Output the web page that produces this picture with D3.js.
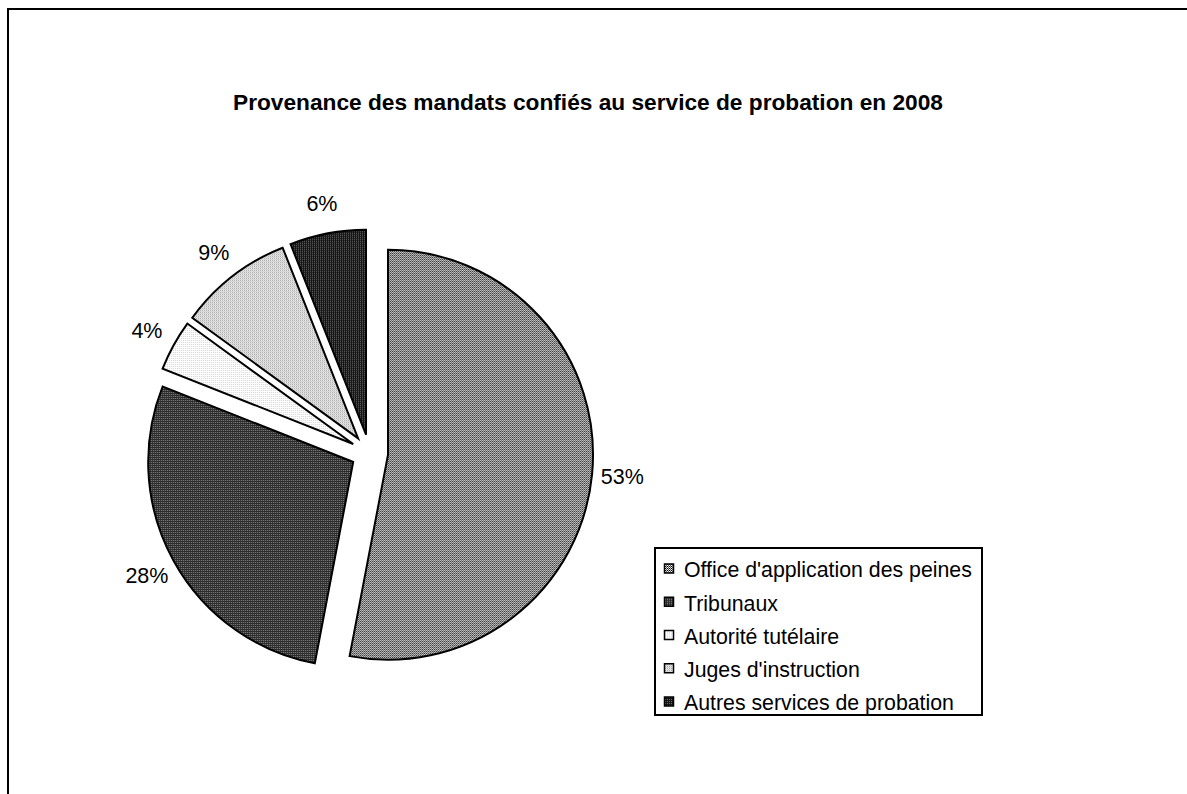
<!DOCTYPE html>
<html>
<head>
<meta charset="utf-8">
<script src="https://cdn.jsdelivr.net/npm/d3@7"></script>
<style>
  html, body { margin: 0; padding: 0; background: #fff; }
  svg { display: block; }
  text { font-family: "Liberation Sans", Arial, sans-serif; fill: #000; }
</style>
</head>
<body>
<svg id="chart" width="1187" height="794"></svg>
<script>
// Sources of probation mandates, 2008 (share of total, %)
const categories = [
  "Office d'application des peines",
  "Tribunaux",
  "Autorité tutélaire",
  "Juges d'instruction",
  "Autres services de probation"
];
const values = [53, 28, 4, 9, 6];
const labels = ["53%", "28%", "4%", "9%", "6%"];
const title = "Provenance des mandats confiés au service de probation en 2008";

const svg = d3.select("#chart");
const W = 1187, H = 794;

// Dithered fills, one per category
const patternDefs = [
  { id: "p0", bg: "#ffffff", dots: [[0, 0, "#000"], [1, 1, "#555"], [1, 0, "#ccc"]] },
  { id: "p1", bg: "#2a2a2a", dots: [[0, 0, "#8a8a8a"]] },
  { id: "p2", bg: "#ffffff", dots: [[0, 0, "#d0d0d0"]] },
  { id: "p3", bg: "#ffffff", dots: [[0, 0, "#888"], [1, 1, "#c0c0c0"]] },
  { id: "p4", bg: "#151515", dots: [[0, 0, "#6a6a6a"]] }
];
const defs = svg.append("defs");
patternDefs.forEach(p => {
  const pat = defs.append("pattern")
    .attr("id", p.id)
    .attr("patternUnits", "userSpaceOnUse")
    .attr("width", 2).attr("height", 2);
  pat.append("rect").attr("width", 2).attr("height", 2).attr("fill", p.bg);
  p.dots.forEach(d => pat.append("rect")
    .attr("x", d[0]).attr("y", d[1]).attr("width", 1).attr("height", 1)
    .attr("fill", d[2]).attr("shape-rendering", "crispEdges"));
});
const fill = d3.scaleOrdinal().domain(categories).range(patternDefs.map(p => `url(#${p.id})`));

// Chart frame (runs off the right and bottom of the page)
svg.append("rect")
  .attr("x", 8).attr("y", 9).attr("width", W + 20).attr("height", H + 20)
  .attr("fill", "none").attr("stroke", "#000").attr("stroke-width", 2);

// Title
svg.append("text")
  .attr("x", 588).attr("y", 110)
  .attr("text-anchor", "middle")
  .style("font-size", "22.7px").style("font-weight", "bold")
  .text(title);

// Exploded pie
const cx = 369.5, cy = 453, R = 205, explode = 18.6, labelR = 254;
const data = categories.map((c, i) => ({ name: c, value: values[i], label: labels[i] }));
const pie = d3.pie().sort(null).value(d => d.value).startAngle(0).endAngle(2 * Math.PI);
const arcs = pie(data);
const arc = d3.arc().innerRadius(0).outerRadius(R);

const g = svg.append("g").attr("transform", `translate(${cx},${cy})`);
const mid = d => (d.startAngle + d.endAngle) / 2;

g.selectAll("path.slice")
  .data(arcs)
  .join("path")
  .attr("class", "slice")
  .attr("transform", d => `translate(${explode * Math.sin(mid(d))},${-explode * Math.cos(mid(d))})`)
  .attr("d", arc)
  .attr("fill", d => fill(d.data.name))
  .attr("stroke", "#000")
  .attr("stroke-width", 2)
  .attr("stroke-linejoin", "miter");

g.selectAll("text.pct")
  .data(arcs)
  .join("text")
  .attr("class", "pct")
  .attr("x", d => labelR * Math.sin(mid(d)))
  .attr("y", d => -labelR * Math.cos(mid(d)))
  .attr("dy", "0.35em")
  .attr("text-anchor", "middle")
  .style("font-size", "21.5px")
  .text(d => d.data.label);

// Legend
const lg = svg.append("g").attr("transform", "translate(655,548)");
lg.append("rect")
  .attr("width", 327).attr("height", 167)
  .attr("fill", "#fff").attr("stroke", "#000").attr("stroke-width", 2);
const rowY = d3.scalePoint().domain(categories).range([22, 155]);
const item = lg.selectAll("g.item").data(categories).join("g")
  .attr("class", "item")
  .attr("transform", d => `translate(0,${rowY(d)})`);
item.append("rect")
  .attr("x", 9.5).attr("y", -6).attr("width", 9).attr("height", 9)
  .attr("fill", d => fill(d)).attr("stroke", "#000").attr("stroke-width", 1.5);
item.append("text")
  .attr("x", 29).attr("y", 0).attr("dy", "0.35em")
  .style("font-size", "21.3px")
  .text(d => d);
</script>
</body>
</html>
